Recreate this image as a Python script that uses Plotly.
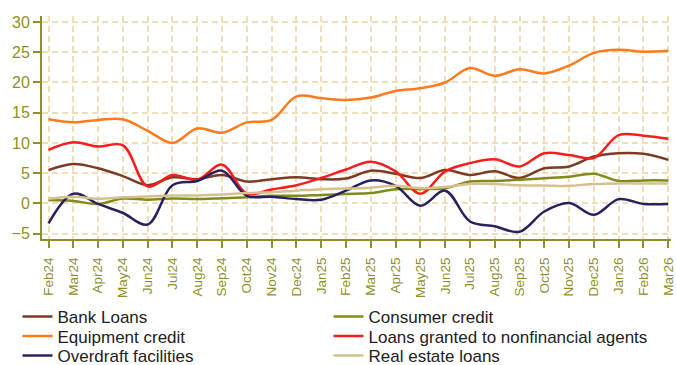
import plotly.graph_objects as go

# Monthly growth rates (%), Feb 2024 - Mar 2026
months = ["Feb24", "Mar24", "Apr24", "May24", "Jun24", "Jul24", "Aug24", "Sep24",
          "Oct24", "Nov24", "Dec24", "Jan25", "Feb25", "Mar25", "Apr25", "May25",
          "Jun25", "Jul25", "Aug25", "Sep25", "Oct25", "Nov25", "Dec25", "Jan26",
          "Feb26", "Mar26"]

bank_loans = [5.5, 6.5, 5.8, 4.5, 3.0, 4.3, 4.0, 4.7, 3.6, 4.0, 4.3, 4.0, 4.1,
              5.4, 4.9, 4.2, 5.5, 4.7, 5.3, 4.2, 5.8, 6.1, 7.75, 8.3, 8.2, 7.2]
consumer_credit = [0.55, 0.4, -0.1, 0.8, 0.6, 0.8, 0.7, 0.85, 1.0, 1.25, 1.25, 1.4, 1.55,
                   1.7, 2.35, 2.35, 2.5, 3.6, 3.7, 3.9, 4.15, 4.4, 4.9, 3.7, 3.8, 3.8]
equipment_credit = [13.9, 13.4, 13.8, 13.9, 12.0, 10.0, 12.4, 11.7, 13.4, 13.8, 17.7, 17.4, 17.1,
                    17.5, 18.6, 19.05, 20.0, 22.4, 21.1, 22.2, 21.5, 22.8, 24.9, 25.4, 25.1, 25.25]
loans_nonfinancial = [8.85, 10.1, 9.4, 9.6, 2.8, 4.7, 3.9, 6.4, 1.6, 2.3, 3.0, 4.2, 5.6,
                      6.9, 5.3, 1.6, 5.3, 6.65, 7.3, 6.1, 8.3, 8.0, 7.5, 11.3, 11.2, 10.7]
overdraft = [-3.3, 1.6, -0.1, -1.6, -3.5, 3.0, 3.7, 5.4, 1.25, 1.1, 0.7, 0.6, 2.1,
             3.8, 2.9, -0.4, 2.1, -3.0, -3.8, -4.7, -1.35, 0.05, -1.9, 0.7, -0.1, -0.1]
real_estate = [0.75, 1.1, 0.75, 1.0, 1.15, 1.3, 1.3, 1.45, 1.7, 1.85, 2.1, 2.35, 2.45,
               2.6, 2.9, 2.5, 2.7, 3.2, 3.2, 3.0, 2.95, 2.9, 3.2, 3.3, 3.3, 3.3]

y_ticks = [-5, 0, 5, 10, 15, 20, 25, 30]

# (name, values, colour)
series = [
    ("Bank Loans", bank_loans, "#7b3b24"),
    ("Consumer credit", consumer_credit, "#7f8c1a"),
    ("Equipment credit", equipment_credit, "#ff7a1c"),
    ("Loans granted to nonfinancial agents", loans_nonfinancial, "#f81d1d"),
    ("Overdraft facilities", overdraft, "#2a2060"),
    ("Real estate loans", real_estate, "#d6c18c"),
]

axis_color = "#8f8f2a"
grid_color = "#efdeb8"
font_family = "Arial, Liberation Sans, sans-serif"

# legend grid: two columns, three rows (pixel positions in the page)
legend_cols = [17.5, 328.5]
legend_rows = [317, 336.5, 356]

fig = go.Figure()
legend_layout = {}
for k, (name, values, color) in enumerate(series):
    legend_id = "legend" if k == 0 else f"legend{k + 1}"
    fig.add_trace(go.Scatter(
        x=months, y=values, name=name, mode="lines", legend=legend_id,
        line=dict(color=color, width=2.5, shape="spline", smoothing=1.0),
    ))
    legend_layout[legend_id] = dict(
        orientation="h",
        xref="container", yref="container",
        x=legend_cols[k % 2] / 676, y=1 - legend_rows[k // 2] / 365,
        xanchor="left", yanchor="middle",
        font=dict(size=17, color="#222222", family=font_family),
        itemwidth=30, bgcolor="rgba(0,0,0,0)",
    )

fig.update_layout(
    width=676, height=365,
    margin=dict(l=42, r=0, t=16, b=126),
    paper_bgcolor="white", plot_bgcolor="white",
    font=dict(family=font_family, color="#222222"),
    showlegend=True,
    **legend_layout,
)

fig.update_xaxes(
    type="category",
    range=[-0.264, 25.11],
    showline=True, linecolor=axis_color, linewidth=2,
    ticks="outside", ticklen=7, tickwidth=1.5, tickcolor=axis_color,
    tickangle=-90, ticklabelstandoff=4,
    tickfont=dict(size=13.5, color=axis_color, family=font_family),
    showgrid=True, gridcolor=grid_color, gridwidth=1.5, griddash="6px,4px",
    zeroline=False,
)

fig.update_yaxes(
    range=[-5.9, 31.0],
    tickvals=y_ticks,
    showline=True, linecolor=axis_color, linewidth=2,
    ticks="outside", ticklen=7, tickwidth=1.5, tickcolor=axis_color,
    tickfont=dict(size=16, color=axis_color, family=font_family),
    showgrid=True, gridcolor=grid_color, gridwidth=1.5, griddash="6px,4px",
    zeroline=False,
)

fig.write_html("out.html")
